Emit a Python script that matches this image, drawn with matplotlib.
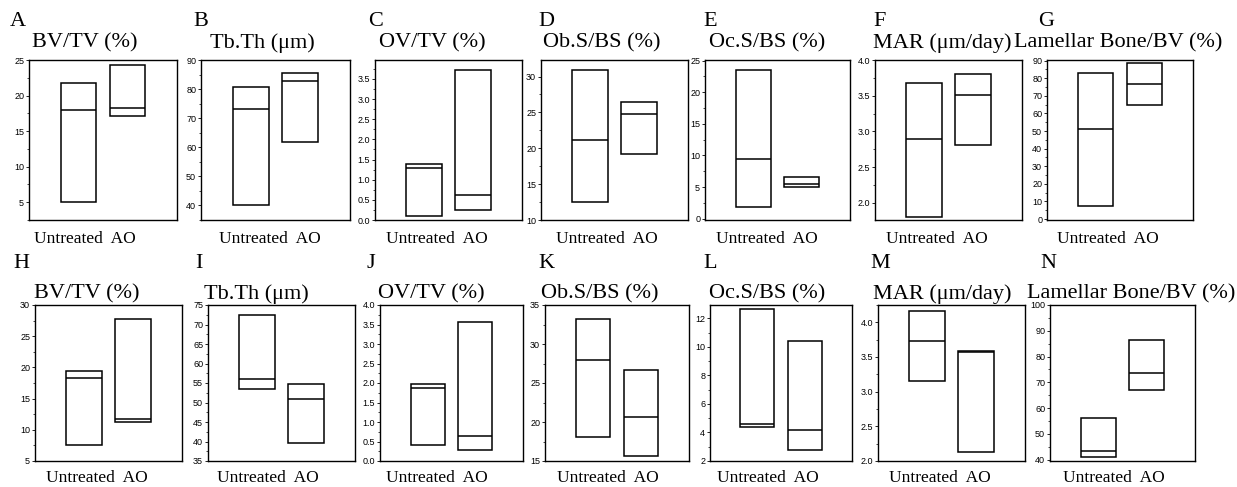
import matplotlib.pyplot as plt
from matplotlib.ticker import MultipleLocator, AutoMinorLocator

groups_label = 'Untreated  AO'
letters = list('ABCDEFGHIJKLMN')
titles = ['BV/TV (%)', 'Tb.Th (\u03bcm)', 'OV/TV (%)', 'Ob.S/BS (%)', 'Oc.S/BS (%)',
          'MAR (\u03bcm/day)', 'Lamellar Bone/BV (%)'] * 2

# min, median, max for each group (Untreated, AO)
untreated_min = [5.0, 40.0, 0.10, 12.5, 1.9, 1.80, 7.6,
                 7.6, 53.5, 0.42, 18.1, 4.37, 3.16, 41.0]
untreated_med = [18.0, 73.0, 1.29, 21.2, 9.45, 2.89, 50.9,
                 18.3, 56.0, 1.86, 27.9, 4.58, 3.73, 43.5]
untreated_max = [21.8, 80.6, 1.40, 30.9, 23.5, 3.68, 82.7,
                 19.4, 72.4, 1.97, 33.15, 12.63, 4.17, 56.0]
ao_min = [17.1, 61.8, 0.25, 19.2, 5.0, 2.81, 64.8,
          11.2, 39.7, 0.29, 15.6, 2.75, 2.13, 67.0]
ao_med = [18.3, 82.9, 0.63, 24.8, 5.5, 3.51, 76.8,
          11.8, 51.0, 0.63, 20.6, 4.18, 3.575, 73.5]
ao_max = [24.3, 85.5, 3.72, 26.5, 6.6, 3.80, 88.4,
          27.8, 54.8, 3.56, 26.7, 10.4, 3.59, 86.3]

# axis ranges and tick steps
ylims = [(2.5, 25), (35, 90), (0, 3.97), (10, 32.3), (-0.2, 25.1), (1.76, 4.0), (-0.5, 90.3),
         (5, 30), (35, 75), (0, 4), (15, 35), (2, 12.94), (2, 4.25), (39.5, 100)]
steps = [5, 10, 0.5, 5, 5, 0.5, 10, 5, 5, 0.5, 5, 2, 0.5, 10]
fmts = ['%d', '%d', '%.1f', '%d', '%d', '%.1f', '%d',
        '%d', '%d', '%.1f', '%d', '%d', '%.1f', '%d']

# panel boxes in pixels (left, right) per row, plus text placement
W, H = 1237, 487
lefts_top = [(29, 177), (201, 350), (375, 522), (541, 688), (705, 850), (875, 1022), (1047, 1193)]
lefts_bot = [(35, 182), (208, 355), (380, 523), (545, 689), (710, 852), (878, 1025), (1050, 1195)]
rows = [(60, 220), (305, 461)]
letter_x = [10, 193, 368, 538, 703, 873, 1038, 13, 195, 367, 538, 703, 870, 1040]
title_cx = [0.38, 0.41, 0.39, 0.41, 0.43, 0.46, 0.49, 0.35, 0.33, 0.36, 0.38, 0.40, 0.44, 0.56]
label_cx = [0.38, 0.46, 0.42, 0.45, 0.43, 0.42, 0.42, 0.42, 0.41, 0.40, 0.44, 0.41, 0.42, 0.44]
letter_y = [21, 264]
title_y = [43, 294]
label_y = [239, 478]

serif = ['Liberation Serif', 'DejaVu Serif']
tickfont = ['Liberation Sans Narrow', 'Liberation Sans', 'DejaVu Sans']

fig = plt.figure(figsize=(W / 100, H / 100), dpi=100)

for i in range(14):
    r = i // 7
    x0, x1 = (lefts_top if r == 0 else lefts_bot)[i % 7]
    y0, y1 = rows[r]
    ax = fig.add_axes([x0 / W, 1 - y1 / H, (x1 - x0) / W, (y1 - y0) / H])

    lows = [untreated_min[i], ao_min[i]]
    highs = [untreated_max[i], ao_max[i]]
    meds = [untreated_med[i], ao_med[i]]
    xs = [1, 2]
    width = 0.72
    ax.bar(xs, [h - l for h, l in zip(highs, lows)], bottom=lows, width=width,
           fill=False, edgecolor='black', linewidth=1.1)
    ax.hlines(meds, [x - width / 2 for x in xs], [x + width / 2 for x in xs],
              colors='black', linewidth=1.1)

    ax.set_xlim(0.0, 3.0)
    ax.set_ylim(*ylims[i])
    ax.yaxis.set_major_locator(MultipleLocator(steps[i]))
    ax.yaxis.set_minor_locator(AutoMinorLocator(2))
    ax.yaxis.set_major_formatter(plt.FormatStrFormatter(fmts[i]))
    ax.tick_params(axis='y', which='major', length=2.5, width=0.6, pad=1, labelsize=6.5)
    ax.tick_params(axis='y', which='minor', length=1.5, width=0.5)
    for lab in ax.get_yticklabels():
        lab.set_family(tickfont)
    ax.set_xticks([])
    for s in ax.spines.values():
        s.set_linewidth(1.0)

    # group names under the panel
    fig.text((x0 + label_cx[i] * (x1 - x0)) / W, 1 - label_y[r] / H, groups_label,
             family=serif, fontsize=12.5, ha='center', va='center')
    # panel letter and measurement title
    fig.text(letter_x[i] / W, 1 - letter_y[r] / H, letters[i], family=serif, fontsize=16,
             ha='left', va='center')
    fig.text((x0 + title_cx[i] * (x1 - x0)) / W, 1 - title_y[r] / H, titles[i],
             family=serif, fontsize=16, ha='center', va='center')

fig.savefig('out.png', dpi=100)
